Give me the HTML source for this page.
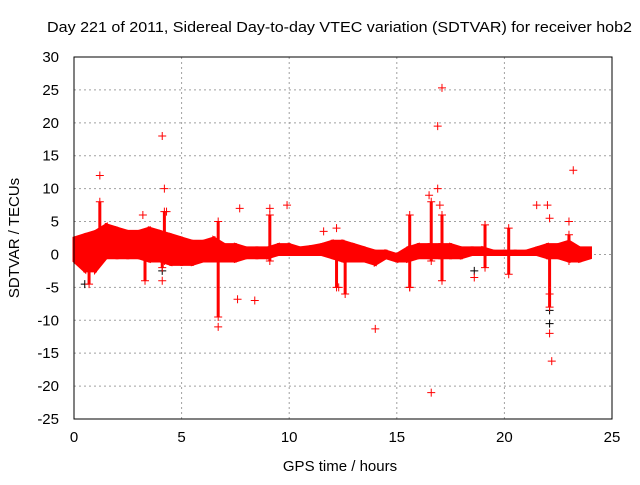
<!DOCTYPE html>
<html><head><meta charset="utf-8"><style>
body{margin:0;background:#fff;width:640px;height:480px;overflow:hidden}
svg text{font-family:"Liberation Sans",sans-serif;font-size:15px;fill:#000}
</style></head><body>
<svg id="chart" width="640" height="480" xmlns="http://www.w3.org/2000/svg">
<text x="47" y="32" textLength="585" lengthAdjust="spacingAndGlyphs">Day 221 of 2011, Sidereal Day-to-day VTEC variation (SDTVAR) for receiver hob2</text>
<text x="340" y="471" text-anchor="middle">GPS time / hours</text>
<text transform="translate(19,238) rotate(-90)" text-anchor="middle">SDTVAR / TECUs</text>
<g id="grid"></g>
<g id="axes"></g>
<g id="marks"></g>
<rect x="74" y="57" width="538" height="362" fill="none" stroke="#000" stroke-width="1"/>
</svg>
<script>
const xTicks=[0,5,10,15,20,25];
const yTicks=[30,25,20,15,10,5,0,-5,-10,-15,-20,-25];
const bandT=[0,0.5,1,1.5,2,2.5,3,3.5,4,4.5,5,5.5,6,6.5,7,7.5,8,8.5,9,9.5,10,10.5,11,11.5,12,12.5,13,13.5,14,14.5,15,15.5,16,16.5,17,17.5,18,18.5,19,19.5,20,20.5,21,21.5,22,22.5,23,23.5,24];
const bandLo=[-1,-2.5,-2.5,-0.5,-0.5,-0.5,-0.5,-1,-1,-1.5,-1.5,-1.5,-1,-1,-1,-1,-0.5,-0.5,-0.5,0,0,0,0,0,-0.5,-1,-1,-1,-1.5,-0.5,-1,-1,-0.5,-0.5,-0.5,-0.5,-0.5,0,0,0,0,0,0,0,-0.5,-0.5,-1,-1,-0.5];
const bandHi=[2.5,3,3.5,4.5,4,3.5,3.5,4,3.5,3,2.5,2,2,2.5,1.5,1.5,1,1,1,1.5,1.5,1,1.2,1.5,2,2,1.5,1,0.5,0.5,0,1,1.5,1.5,1.5,1.5,1,1,1,0.5,0.5,0.5,0.5,1,1.5,1.5,2,1,1];
const spikeT=[0.7,1.2,3.3,4.1,4.2,6.7,9.1,12.2,12.6,15.6,16.6,17.1,19.1,20.2,22.1,23];
const spikeLo=[-4.5,-0.5,-4,-2,-1,-9.5,-1,-5,-6,-5,-1,-4,-2,-3,-8,-1];
const spikeHi=[0,8,0,3,6.5,5,6,0,0,6,8,6,4.5,4,1,3];
const outT=[1.2,4.1,4.2,4.3,3.2,4.1,7.7,8.4,7.6,6.7,9.1,9.9,11.6,12.2,12.3,14,15.6,16.6,16.5,17.1,16.9,16.9,17,18.6,21.5,22,22.1,22.1,22.1,22.2,23.2,23];
const outV=[12,18,10,6.5,6,-4,7,-7,-6.8,-11,7,7.5,3.5,4,-5,-11.3,-5,-21,9,25.3,19.5,10,7.5,-3.5,7.5,7.5,5.5,-6,-12,-16.2,12.8,5];
const blackT=[18.6,22.1,22.1,0.5,4.1];
const blackV=[-2.5,-8.5,-10.5,-4.5,-2.5];
const X=v=>74+v*538/25, Y=v=>57+(30-v)*362/55;
const NS='http://www.w3.org/2000/svg';
const grid=document.getElementById('grid'),axes=document.getElementById('axes'),marks=document.getElementById('marks');
function mk(tag,a,p){const e=document.createElementNS(NS,tag);for(const k in a)e.setAttribute(k,a[k]);p.appendChild(e);return e;}
xTicks.forEach(t=>{
 if(t>0&&t<25){const g=mk('line',{x1:X(t),x2:X(t),y1:57,y2:419,stroke:'#a0a0a0','stroke-dasharray':'2,3'},grid);
 
 }
 const l=mk('text',{x:X(t),y:442,'text-anchor':'middle'},axes);l.textContent=t;
 
 
});
yTicks.forEach(t=>{
 if(t<30&&t>-25){const g=mk('line',{x1:74,x2:612,y1:Y(t),y2:Y(t),stroke:'#a0a0a0','stroke-dasharray':'2,3'},grid);
 
 }
 const l=mk('text',{x:59,y:Y(t)+5,'text-anchor':'end'},axes);l.textContent=t;
 
 
});
function plus(x,y,c){const p=mk('path',{d:`M${x-4} ${y}h8M${x} ${y-4}v8`,stroke:c,'stroke-width':1},marks);
 
 }
blackT.forEach((t,i)=>plus(X(t),Y(blackV[i]),'#000'));
for(let i=0;i<bandT.length-1;i++){
 const x0=X(bandT[i]),x1=X(bandT[i+1]);
 const p=mk('polygon',{points:`${x0},${Y(bandHi[i])} ${x1},${Y(bandHi[i+1])} ${x1},${Y(bandLo[i+1])} ${x0},${Y(bandLo[i])}`,fill:'#ff0000',stroke:'#ff0000','stroke-width':3},marks);
 
 
}
spikeT.forEach((t,i)=>{
 const x=X(t);
 const r=mk('rect',{x:x-1.5,y:Y(spikeHi[i]),width:3,height:Y(spikeLo[i])-Y(spikeHi[i]),fill:'#ff0000'},marks);
 
 
 plus(x,Y(spikeHi[i]),'#ff0000');plus(x,Y(spikeLo[i]),'#ff0000');
});
outT.forEach((t,i)=>plus(X(t),Y(outV[i]),'#ff0000'));
</script>
</body></html>
